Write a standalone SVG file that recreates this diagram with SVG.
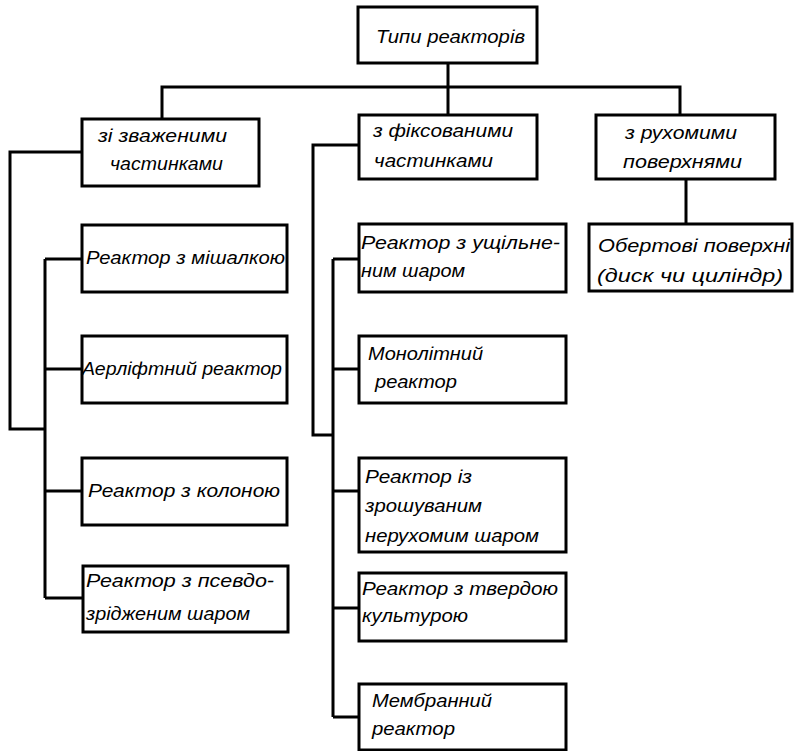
<svg xmlns="http://www.w3.org/2000/svg" width="794" height="751" viewBox="0 0 794 751">
<style>
.box{fill:#fff;stroke:#000;stroke-width:3}
.ln{fill:none;stroke:#000;stroke-width:3;stroke-linejoin:miter}
text{font-family:"Liberation Sans","DejaVu Sans",sans-serif;font-style:italic;font-size:19px;fill:#000}
</style>
<rect width="794" height="751" fill="#fff"/>
<g id="connectors">
<path class="ln" d="M448,63 V115 M162,119 V87 H680 V115"/>
<path class="ln" d="M82,152 H10 V429 H45 M45,259 V598 M45,259 H82 M45,369 H82 M45,491 H82 M45,598 H83"/>
<path class="ln" d="M359,145 H313 V435 H333 M333,259 V717 M333,259 H359 M333,369 H359 M333,491 H359 M333,608 H359 M333,717 H359"/>
<path class="ln" d="M686,179 V224"/>
</g>
<g id="n-root"><rect class="box" x="358" y="7" width="179" height="56"/><text x="376" y="43" textLength="149" lengthAdjust="spacingAndGlyphs" font-size="21">Типи реакторів</text></g>
<g id="n-suspended"><rect class="box" x="82" y="119" width="177" height="67"/><text x="98" y="142" textLength="129" lengthAdjust="spacingAndGlyphs">зі зваженими</text><text x="110" y="170" textLength="113" lengthAdjust="spacingAndGlyphs">частинками</text></g>
<g id="n-fixed"><rect class="box" x="359" y="115" width="178" height="64"/><text x="373" y="137" textLength="140" lengthAdjust="spacingAndGlyphs">з фіксованими</text><text x="374" y="167" textLength="119" lengthAdjust="spacingAndGlyphs">частинками</text></g>
<g id="n-moving"><rect class="box" x="596" y="115" width="179" height="64"/><text x="625" y="139" textLength="112" lengthAdjust="spacingAndGlyphs">з рухомими</text><text x="623" y="168" textLength="119" lengthAdjust="spacingAndGlyphs">поверхнями</text></g>
<g id="n-stirrer"><rect class="box" x="82" y="225" width="205" height="67"/><text x="86" y="264" textLength="199" lengthAdjust="spacingAndGlyphs">Реактор з мішалкою</text></g>
<g id="n-airlift"><rect class="box" x="82" y="336" width="205" height="67"/><text x="82" y="375" textLength="200" lengthAdjust="spacingAndGlyphs">Аерліфтний реактор</text></g>
<g id="n-column"><rect class="box" x="82" y="458" width="205" height="67"/><text x="88" y="497" textLength="192" lengthAdjust="spacingAndGlyphs">Реактор з колоною</text></g>
<g id="n-pseudo"><rect class="box" x="83" y="566" width="205" height="66"/><text x="86" y="587" textLength="188" lengthAdjust="spacingAndGlyphs">Реактор з псевдо-</text><text x="86" y="620" textLength="164" lengthAdjust="spacingAndGlyphs">зрідженим шаром</text></g>
<g id="n-packed"><rect class="box" x="359" y="224" width="207" height="68"/><text x="361" y="249" textLength="199" lengthAdjust="spacingAndGlyphs">Реактор з ущільне-</text><text x="361" y="277" textLength="104" lengthAdjust="spacingAndGlyphs">ним шаром</text></g>
<g id="n-monolith"><rect class="box" x="359" y="336" width="207" height="67"/><text x="368" y="360" textLength="115" lengthAdjust="spacingAndGlyphs">Монолітний</text><text x="375" y="388" textLength="82" lengthAdjust="spacingAndGlyphs">реактор</text></g>
<g id="n-trickle"><rect class="box" x="359" y="458" width="207" height="94"/><text x="365" y="483" textLength="107" lengthAdjust="spacingAndGlyphs">Реактор із</text><text x="365" y="512" textLength="117" lengthAdjust="spacingAndGlyphs">зрошуваним</text><text x="365" y="542" textLength="174" lengthAdjust="spacingAndGlyphs">нерухомим шаром</text></g>
<g id="n-solid"><rect class="box" x="359" y="573" width="207" height="68"/><text x="362" y="595" textLength="196" lengthAdjust="spacingAndGlyphs">Реактор з твердою</text><text x="362" y="622" textLength="106" lengthAdjust="spacingAndGlyphs">культурою</text></g>
<g id="n-membrane"><rect class="box" x="359" y="684" width="207" height="66"/><text x="372" y="707" textLength="120" lengthAdjust="spacingAndGlyphs">Мембранний</text><text x="372" y="735" textLength="83" lengthAdjust="spacingAndGlyphs">реактор</text></g>
<g id="n-rotating"><rect class="box" x="589" y="224" width="203" height="67"/><text x="598" y="252" textLength="192" lengthAdjust="spacingAndGlyphs">Обертові поверхні</text><text x="597" y="282" textLength="186" lengthAdjust="spacingAndGlyphs">(диск чи циліндр)</text></g>
</svg>
